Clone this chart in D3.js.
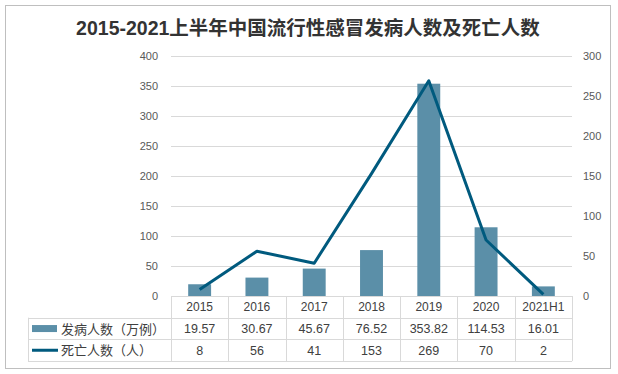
<!DOCTYPE html>
<html lang="zh">
<head>
<meta charset="UTF-8">
<title>流行性感冒</title>
<script src="https://cdnjs.cloudflare.com/ajax/libs/d3/7.8.5/d3.min.js"></script>
<style>
    body{margin:0;background:#fff;}
    svg{display:block;font-family:"Liberation Sans","Noto Sans CJK SC",sans-serif;}
</style>
</head>
<body>
<svg id="chart" width="618" height="374"></svg>
<script>
    var years = ["2015","2016","2017","2018","2019","2020","2021H1"];
    var cases = [19.57,30.67,45.67,76.52,353.82,114.53,16.01];
    var deaths = [8,56,41,153,269,70,2];
    var seriesNames = ["发病人数（万例）","死亡人数（人）"];
    var leftTicks = [0,50,100,150,200,250,300,350,400];
    var rightTicks = [0,50,100,150,200,250,300];

    var barColor = "#5b8fa8";
    var lineColor = "#005a7e";
    var gridColor = "#d9d9d9";
    var textColor = "#404040";

    var plotLeft = 171, plotRight = 572, plotTop = 56, plotBottom = 296;
    var rowH = 21.7;
    var tableLeft = 28;

    var svg = d3.select("#chart");

    svg.append("rect")
       .attr("x",5.5).attr("y",5.5).attr("width",605).attr("height",363)
       .attr("fill","#fff").attr("stroke","#bfbfbf");

    svg.append("text")
       .attr("x",308).attr("y",35)
       .attr("text-anchor","middle")
       .attr("font-size",19.5).attr("font-weight","bold")
       .attr("fill","#333")
       .text("2015-2021上半年中国流行性感冒发病人数及死亡人数");

    var x = d3.scaleBand().domain(years).range([plotLeft,plotRight]);
    var yL = d3.scaleLinear().domain([0,400]).range([plotBottom,plotTop]);
    var yR = d3.scaleLinear().domain([0,300]).range([plotBottom,plotTop]);

    // gridlines
    svg.append("g").selectAll("line")
       .data(leftTicks.slice(1))
       .enter().append("line")
       .attr("x1",plotLeft).attr("x2",plotRight)
       .attr("y1",function(d){return Math.round(yL(d))+0.5;})
       .attr("y2",function(d){return Math.round(yL(d))+0.5;})
       .attr("stroke",gridColor);

    var axisL = d3.axisLeft(yL).tickValues(leftTicks).tickSize(0).tickPadding(13);
    svg.append("g")
       .attr("transform","translate("+plotLeft+",0)")
       .call(axisL)
       .call(function(g){g.select(".domain").remove();})
       .selectAll("text").attr("fill","#595959").attr("font-size",11);

    var axisR = d3.axisRight(yR).tickValues(rightTicks).tickSize(0).tickPadding(11);
    svg.append("g")
       .attr("transform","translate("+plotRight+",0)")
       .call(axisR)
       .call(function(g){g.select(".domain").remove();})
       .selectAll("text").attr("fill","#595959").attr("font-size",11);

    // bars
    var bw = x.bandwidth()*0.4;
    svg.append("g").selectAll("rect")
       .data(cases)
       .enter().append("rect")
       .attr("x",function(d,i){return x(years[i])+(x.bandwidth()-bw)/2;})
       .attr("y",function(d){return yL(d);})
       .attr("width",bw)
       .attr("height",function(d){return plotBottom-yL(d);})
       .attr("fill",barColor);

    // line
    var line = d3.line()
       .x(function(d,i){return x(years[i])+x.bandwidth()/2;})
       .y(function(d){return yR(d);});
    svg.append("path")
       .datum(deaths)
       .attr("d",line)
       .attr("fill","none")
       .attr("stroke",lineColor)
       .attr("stroke-width",3)
       .attr("stroke-linejoin","round");

    // data table
    var t = svg.append("g");
    var rows = [plotBottom, plotBottom+rowH, plotBottom+rowH*2, plotBottom+rowH*3];
    t.append("line").attr("x1",plotLeft).attr("x2",plotRight)
       .attr("y1",plotBottom+0.5).attr("y2",plotBottom+0.5).attr("stroke",gridColor);
    rows.slice(1).forEach(function(r){
        t.append("line").attr("x1",tableLeft).attr("x2",plotRight)
         .attr("y1",Math.round(r)+0.5).attr("y2",Math.round(r)+0.5).attr("stroke",gridColor);
    });
    var edges = years.map(function(y){return x(y);}).concat([plotRight]);
    edges.forEach(function(e){
        t.append("line").attr("x1",Math.round(e)+0.5).attr("x2",Math.round(e)+0.5)
         .attr("y1",plotBottom).attr("y2",rows[3]).attr("stroke",gridColor);
    });
    t.append("line").attr("x1",tableLeft+0.5).attr("x2",tableLeft+0.5)
     .attr("y1",rows[1]).attr("y2",rows[3]).attr("stroke",gridColor);

    t.selectAll("text.cat")
     .data(years).enter().append("text")
     .attr("x",function(d){return x(d)+x.bandwidth()/2;})
     .attr("y",plotBottom+rowH/2+4)
     .attr("text-anchor","middle").attr("font-size",12).attr("fill",textColor)
     .text(function(d){return d;});

    [cases,deaths].forEach(function(vals,r){
        t.selectAll("text.v"+r)
         .data(vals).enter().append("text")
         .attr("x",function(d,i){return x(years[i])+x.bandwidth()/2;})
         .attr("y",rows[r+1]+rowH/2+4.5)
         .attr("text-anchor","middle").attr("font-size",12.5).attr("fill",textColor)
         .text(function(d){return d;});
        t.append("text")
         .attr("x",61).attr("y",rows[r+1]+rowH/2+5)
         .attr("font-size",13).attr("fill",textColor)
         .text(seriesNames[r]);
    });
    t.append("rect").attr("x",32).attr("y",rows[1]+rowH/2-3.5)
     .attr("width",25).attr("height",7).attr("fill",barColor);
    t.append("line").attr("x1",32).attr("x2",58)
     .attr("y1",rows[2]+rowH/2).attr("y2",rows[2]+rowH/2)
     .attr("stroke",lineColor).attr("stroke-width",3);
</script>
</body>
</html>
